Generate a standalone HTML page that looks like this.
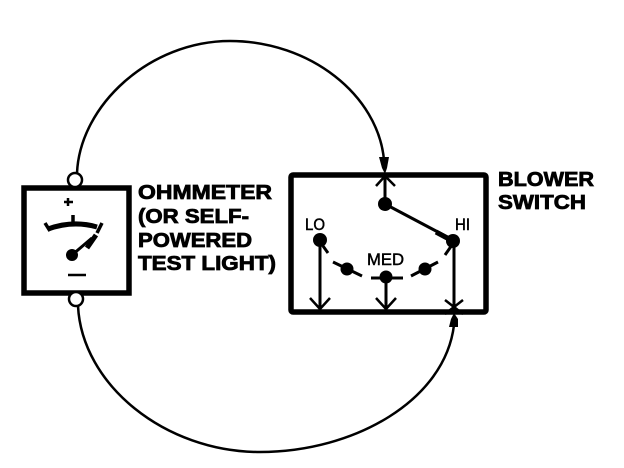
<!DOCTYPE html>
<html><head><meta charset="utf-8"><style>html,body{margin:0;padding:0;background:#fff}svg{display:block}</style></head><body>
<svg width="624" height="468" viewBox="0 0 624 468" xmlns="http://www.w3.org/2000/svg">
<g fill="none" stroke="#000">
<path d="M77 173C80 105 150 41 230 41C310 41 378 95 384 160" stroke-width="2.5"/>
<path d="M78 306C82 385 165 452 260 452C355 452 445 400 454 325" stroke-width="2.5"/>
<rect x="24" y="188" width="105" height="105" stroke-width="5.5"/>
<rect x="291" y="175" width="195" height="137" rx="2" stroke-width="5.5"/>
<circle cx="75" cy="180" r="7" stroke-width="2.5" fill="#fff"/>
<circle cx="76" cy="299" r="7" stroke-width="2.5" fill="#fff"/>
<path d="M48 229Q73 220 97 227" stroke-width="5"/>
<path d="M45 223L50 231M73 215V223M102 223L97 233" stroke-width="3.5"/>
<path d="M72 255L92 238" stroke-width="3"/>
<path d="M87 248L96 235" stroke-width="5"/>
<path d="M64 202H73M68 198V206M68 275H86" stroke-width="2.5"/>
<path d="M385 175V203" stroke-width="3"/>
<path d="M376 186L385 176L395 186" stroke-width="2.5"/>
<path d="M385 204L453 240" stroke-width="3"/>
<path d="M320 241V310M386 278V310M454 243V312" stroke-width="3"/>
<path d="M310 298L320 309L330 298M376 298L386 309L396 298M445 300L463 314M463 300L445 314" stroke-width="2.5"/>
<path d="M323 246L328 253M333 262L362 276M371 278H403M411 276L438 262M445 255L452 245" stroke-width="3"/>
<path d="M436 232L449 239" stroke-width="5"/>
</g>
<g fill="#000">
<circle cx="72" cy="255" r="6"/>
<circle cx="385" cy="204" r="7"/>
<circle cx="320" cy="240" r="7"/>
<circle cx="453" cy="241" r="7"/>
<circle cx="347" cy="269" r="6.5"/>
<circle cx="386" cy="277" r="6.5"/>
<circle cx="425" cy="269" r="6.5"/>
<path d="M379 157H389L387 168L385 174L382 168Z"/>
<path d="M449 327H458L458 319L454 313L451 319Z"/>
</g>
<g font-family="'Liberation Sans',sans-serif" font-weight="700" font-size="20" fill="#000" stroke="#000" stroke-width=".8">
<text x="138" y="199" textLength="134" lengthAdjust="spacingAndGlyphs">OHMMETER</text>
<text x="138" y="223" textLength="111" lengthAdjust="spacingAndGlyphs">(OR SELF-</text>
<text x="138" y="247" textLength="114" lengthAdjust="spacingAndGlyphs">POWERED</text>
<text x="138" y="270" textLength="138" lengthAdjust="spacingAndGlyphs">TEST LIGHT)</text>
<text x="498" y="186" textLength="96" lengthAdjust="spacingAndGlyphs">BLOWER</text>
<text x="498" y="209" textLength="88" lengthAdjust="spacingAndGlyphs">SWITCH</text>
</g>
<g font-family="'Liberation Sans',sans-serif" font-size="17" fill="#000" stroke="#000" stroke-width=".5">
<text x="305" y="230" textLength="20" lengthAdjust="spacingAndGlyphs">LO</text>
<text x="455" y="230" textLength="15" lengthAdjust="spacingAndGlyphs">HI</text>
<text x="367" y="265" textLength="37" lengthAdjust="spacingAndGlyphs">MED</text>
</g>
</svg>
</body></html>
